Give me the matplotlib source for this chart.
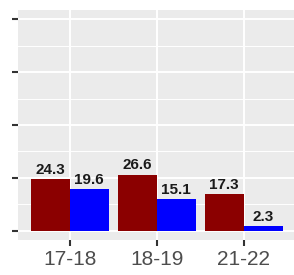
import numpy as np
import matplotlib
matplotlib.use('Agg')
import matplotlib.pyplot as plt

plt.rcParams['font.family'] = ['Liberation Sans', 'DejaVu Sans']

# data
years = ['17-18', '18-19', '21-22']
series_a = [24.3, 26.6, 17.3]
series_b = [19.6, 15.1, 2.3]

fig = plt.figure(figsize=(2.94, 2.75), dpi=100)
ax = fig.add_axes([17.5 / 294, 1 - 240 / 275, (296 - 17.5) / 294, 230 / 275])
ax.set_facecolor('#EBEBEB')

x = np.arange(1, len(years) + 1)
w = 0.45
ax.bar(x - w / 2, series_a, width=w, color='#8B0000', zorder=3)
ax.bar(x + w / 2, series_b, width=w, color='#0000FF', zorder=3)

for xi, v in zip(x - w / 2, series_a):
    ax.annotate(f'{v}', (xi, v), xytext=(0, 1.5), textcoords='offset points',
                ha='center', va='bottom', fontsize=11, fontweight='bold', color='#1a1a1a')
for xi, v in zip(x + w / 2, series_b):
    ax.annotate(f'{v}', (xi, v), xytext=(0, 1.5), textcoords='offset points',
                ha='center', va='bottom', fontsize=11, fontweight='bold', color='#1a1a1a')

ax.set_xlim(0.4, 3.6)
ax.set_ylim(-4.3, 104.3)
ax.set_xticks(x)
ax.set_xticklabels(years, fontsize=15, color='#4D4D4D')
ax.set_yticks([0, 25, 50, 75, 100])
ax.set_yticklabels([])
ax.set_yticks([12.5, 37.5, 62.5, 87.5], minor=True)

ax.grid(which='major', color='white', linewidth=1.4, zorder=0)
ax.grid(which='minor', axis='y', color='white', linewidth=0.7, zorder=0)
ax.tick_params(axis='both', which='major', color='#333333', width=1.5, length=4, pad=3)
ax.tick_params(axis='y', which='minor', length=0)
for s in ax.spines.values():
    s.set_visible(False)
ax.set_axisbelow(True)

fig.savefig('out.png', dpi=100)
